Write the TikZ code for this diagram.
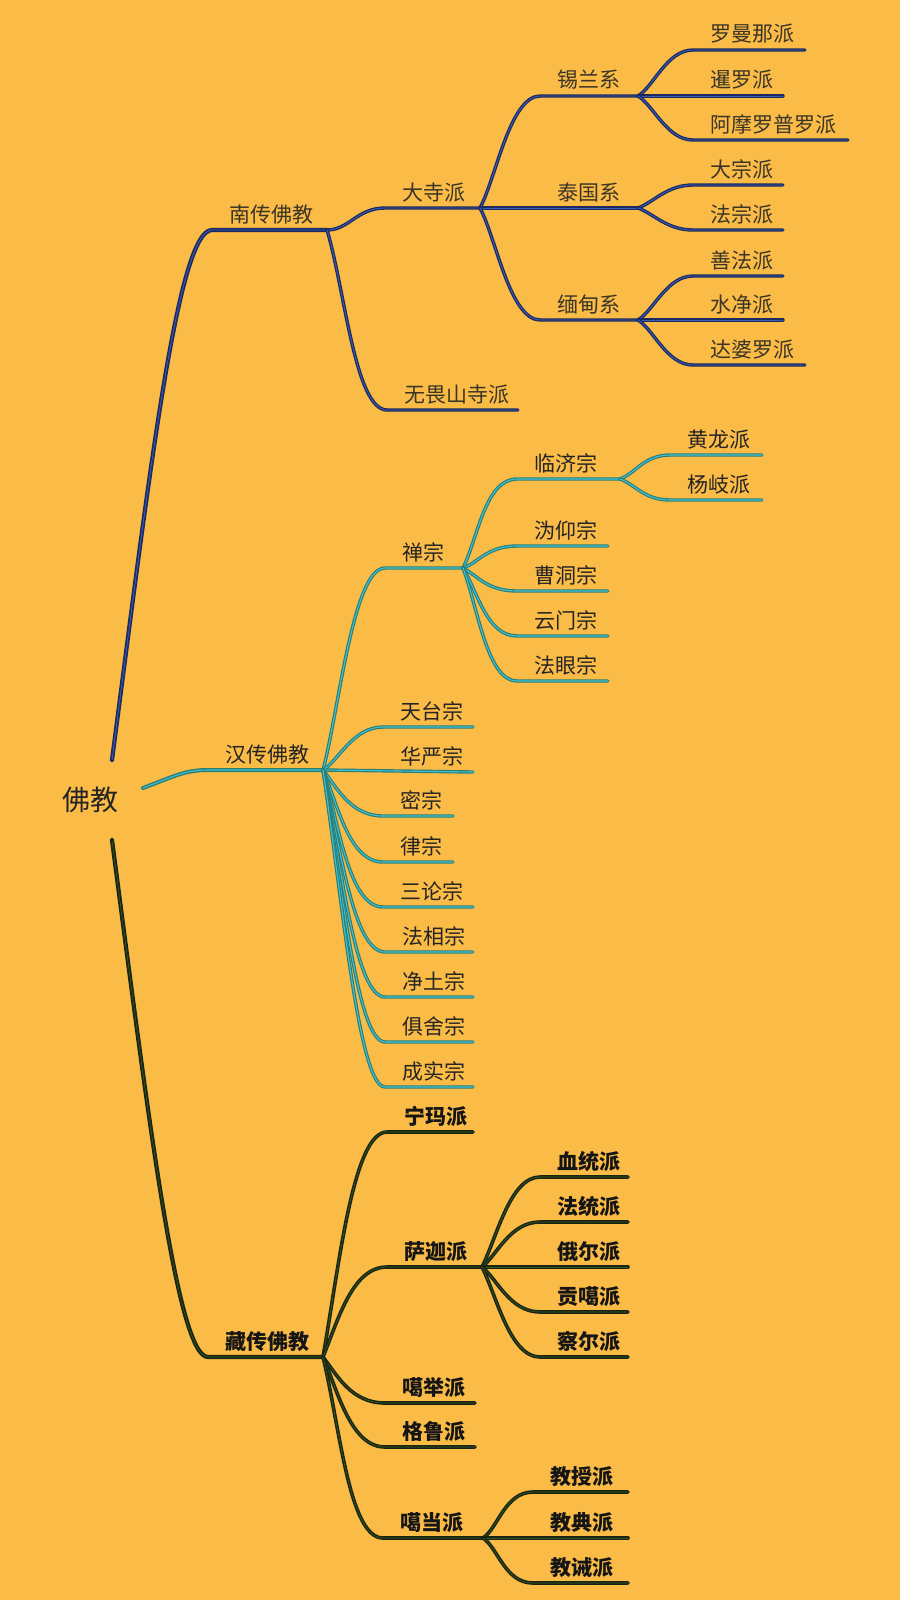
\documentclass[tikz,border=0pt]{standalone}
\usepackage{fontspec}
\setmainfont{Noto Sans CJK SC}
\usetikzlibrary{calc}
\definecolor{bg}{HTML}{FBBB47}
\definecolor{navy}{HTML}{1B2A5E}
\definecolor{navyl}{HTML}{3A5BB5}
\definecolor{tealc}{HTML}{2A7E76}
\definecolor{cyanc}{HTML}{40BFD2}
\definecolor{tdark}{HTML}{1B2412}
\definecolor{tgreen}{HTML}{2F5A22}
\definecolor{stext}{HTML}{3A3526}
\definecolor{htext}{HTML}{242424}
\definecolor{ttext}{HTML}{151515}
\tikzset{
  lbl/.style={inner sep=0pt, font=\fontsize{21}{25}\selectfont},
  stxt/.style={lbl, text=stext},
  htxt/.style={lbl, text=htext},
  ttxt/.style={lbl, text=ttext, font=\fontsize{21}{25}\selectfont\bfseries},
  rtxt/.style={inner sep=0pt, text=htext, font=\fontsize{28}{32}\selectfont},
  sline/.style={draw=navy, line width=3.4pt, line cap=round, postaction={draw=navyl, line width=0.9pt}},
  hline/.style={draw=tealc, line width=3.4pt, line cap=round, postaction={draw=cyanc, line width=1.1pt}},
  tline/.style={draw=tdark, line width=3.6pt, line cap=round, postaction={draw=tgreen, line width=0.7pt}},
}
\newcommand\leaf[6]{%
  \coordinate (#2-l) at (#4,#6);
  \coordinate (#2-r) at (#5,#6);
  \node[#1, anchor=base west] (#2) at (#4+17,#6-8) {#3};}
\newcommand\lnk[6]{%
  \draw[#1] (#2) .. controls ($(#2)+(#4,#5)$) and ($(#3-l)+(-#6,0)$) .. (#3-l) -- (#3-r);}
\newcommand\strt[3]{\draw[#1] (#2) -- (#3-r);}
\begin{document}
\begin{tikzpicture}[x=1pt,y=-1pt]
\useasboundingbox (0,0) rectangle (900,1600);
\fill[bg] (0,0) rectangle (900,1600);
% root
\node[rtxt] (root) at (90,800) {佛教};
\coordinate (rs) at (112,760);
\coordinate (rh) at (143,788);
\coordinate (rt) at (112,840);
% level 1
\leaf{stxt}{nan}{南传佛教}{212}{327}{230}
\leaf{htxt}{han}{汉传佛教}{208}{323}{770}
\leaf{ttxt}{zang}{藏传佛教}{208}{323}{1357}
\draw[sline, line width=4.2pt] (rs) .. controls (150,470) and (178,230) .. (nan-l) -- (nan-r);
\draw[hline, line width=4pt] (rh) .. controls (175,776) and (185,770) .. (han-l) -- (han-r);
\draw[tline, line width=4.2pt] (rt) .. controls (150,1130) and (178,1357) .. (zang-l) -- (zang-r);
% south
\leaf{stxt}{dasi}{大寺派}{385}{480}{208}
\leaf{stxt}{wuwei}{无畏山寺派}{387}{518}{410}
\lnk{sline}{nan-r}{dasi}{22}{0}{28}
\lnk{sline}{nan-r}{wuwei}{18}{60}{32}
\leaf{stxt}{xilan}{锡兰系}{540}{638}{96}
\leaf{stxt}{taiguo}{泰国系}{540}{638}{208}
\leaf{stxt}{miandian}{缅甸系}{540}{638}{320}
\lnk{sline}{dasi-r}{xilan}{16}{-30}{30}
\strt{sline}{dasi-r}{taiguo}
\lnk{sline}{dasi-r}{miandian}{16}{30}{30}
\leaf{stxt}{luoman}{罗曼那派}{693}{805}{50}
\leaf{stxt}{xianluo}{暹罗派}{693}{783}{96}
\leaf{stxt}{amoluo}{阿摩罗普罗派}{693}{848}{140}
\lnk{sline}{xilan-r}{luoman}{16}{-10}{26}
\strt{sline}{xilan-r}{xianluo}
\lnk{sline}{xilan-r}{amoluo}{16}{10}{26}
\leaf{stxt}{dazong}{大宗派}{693}{783}{185}
\leaf{stxt}{fazong}{法宗派}{693}{783}{230}
\lnk{sline}{taiguo-r}{dazong}{16}{-6}{26}
\lnk{sline}{taiguo-r}{fazong}{16}{6}{26}
\leaf{stxt}{shanfa}{善法派}{693}{783}{276}
\leaf{stxt}{shuijing}{水净派}{693}{783}{320}
\leaf{stxt}{dapo}{达婆罗派}{693}{805}{365}
\lnk{sline}{miandian-r}{shanfa}{16}{-10}{26}
\strt{sline}{miandian-r}{shuijing}
\lnk{sline}{miandian-r}{dapo}{16}{10}{26}
% han
\leaf{htxt}{chan}{禅宗}{385}{463}{568}
\leaf{htxt}{tiantai}{天台宗}{383}{473}{727}
\leaf{htxt}{huayan}{华严宗}{383}{473}{772}
\leaf{htxt}{mi}{密宗}{383}{453}{816}
\leaf{htxt}{lv}{律宗}{383}{453}{862}
\leaf{htxt}{sanlun}{三论宗}{383}{473}{907}
\leaf{htxt}{faxiang}{法相宗}{385}{473}{952}
\leaf{htxt}{jingtu}{净土宗}{385}{473}{997}
\leaf{htxt}{jushe}{俱舍宗}{385}{473}{1042}
\leaf{htxt}{chengshi}{成实宗}{385}{473}{1087}
\lnk{hline}{han-r}{chan}{16}{-60}{32}
\lnk{hline}{han-r}{tiantai}{16}{-10}{30}
\strt{hline}{han-r}{huayan}
\lnk{hline}{han-r}{mi}{14}{18}{32}
\lnk{hline}{han-r}{lv}{15}{35}{34}
\lnk{hline}{han-r}{sanlun}{16}{55}{34}
\lnk{hline}{han-r}{faxiang}{17}{75}{32}
\lnk{hline}{han-r}{jingtu}{18}{95}{30}
\lnk{hline}{han-r}{jushe}{19}{115}{28}
\lnk{hline}{han-r}{chengshi}{20}{135}{26}
\leaf{htxt}{linji}{临济宗}{517}{620}{479}
\leaf{htxt}{weiyang}{沩仰宗}{517}{608}{546}
\leaf{htxt}{caodong}{曹洞宗}{517}{608}{591}
\leaf{htxt}{yunmen}{云门宗}{517}{608}{636}
\leaf{htxt}{fayan}{法眼宗}{517}{608}{681}
\lnk{hline}{chan-r}{linji}{15}{-30}{32}
\lnk{hline}{chan-r}{weiyang}{15}{-5}{30}
\lnk{hline}{chan-r}{caodong}{15}{8}{30}
\lnk{hline}{chan-r}{yunmen}{15}{25}{30}
\lnk{hline}{chan-r}{fayan}{15}{40}{30}
\leaf{htxt}{huanglong}{黄龙派}{670}{762}{455}
\leaf{htxt}{yangqi}{杨岐派}{670}{762}{500}
\lnk{hline}{linji-r}{huanglong}{16}{-6}{26}
\lnk{hline}{linji-r}{yangqi}{16}{6}{26}
% tibet
\leaf{ttxt}{ningma}{宁玛派}{387}{473}{1132}
\leaf{ttxt}{sajia}{萨迦派}{387}{482}{1267}
\leaf{ttxt}{gaju}{噶举派}{385}{475}{1403}
\leaf{ttxt}{gelu}{格鲁派}{385}{475}{1447}
\leaf{ttxt}{gadang}{噶当派}{383}{483}{1538}
\lnk{tline}{zang-r}{ningma}{16}{-90}{34}
\lnk{tline}{zang-r}{sajia}{16}{-40}{34}
\lnk{tline}{zang-r}{gaju}{14}{18}{34}
\lnk{tline}{zang-r}{gelu}{15}{35}{34}
\lnk{tline}{zang-r}{gadang}{17}{70}{34}
\leaf{ttxt}{xuetong}{血统派}{540}{628}{1177}
\leaf{ttxt}{fatong}{法统派}{540}{628}{1222}
\leaf{ttxt}{eer}{俄尔派}{540}{628}{1267}
\leaf{ttxt}{gongga}{贡噶派}{540}{628}{1312}
\leaf{ttxt}{chaer}{察尔派}{540}{628}{1357}
\lnk{tline}{sajia-r}{xuetong}{15}{-30}{30}
\lnk{tline}{sajia-r}{fatong}{15}{-12}{30}
\strt{tline}{sajia-r}{eer}
\lnk{tline}{sajia-r}{gongga}{15}{12}{30}
\lnk{tline}{sajia-r}{chaer}{15}{30}{30}
\leaf{ttxt}{jiaoshou}{教授派}{533}{628}{1492}
\leaf{ttxt}{jiaodian}{教典派}{533}{628}{1538}
\leaf{ttxt}{jiaojie}{教诫派}{533}{628}{1583}
\lnk{tline}{gadang-r}{jiaoshou}{15}{-10}{28}
\strt{tline}{gadang-r}{jiaodian}
\lnk{tline}{gadang-r}{jiaojie}{15}{10}{28}
\end{tikzpicture}
\end{document}
